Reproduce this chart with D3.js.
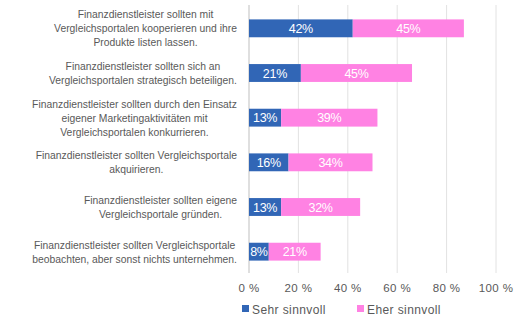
<!DOCTYPE html>
<html lang="de">
<head>
<meta charset="utf-8">
<title>Vergleichsportale</title>
<script src="https://d3js.org/d3.v7.min.js"></script>
<style>
  body { margin: 0; background: #fff; }
  text { font-family: "Liberation Sans", Arial, sans-serif; }
</style>
</head>
<body>
<script>
// data
var categories = [
  ["Finanzdienstleister sollten mit", "Vergleichsportalen kooperieren und ihre", "Produkte listen lassen."],
  ["Finanzdienstleister sollten sich an", "Vergleichsportalen strategisch beteiligen."],
  ["Finanzdienstleister sollten durch den Einsatz", "eigener Marketingaktivitäten mit", "Vergleichsportalen konkurrieren."],
  ["Finanzdienstleister sollten Vergleichsportale", "akquirieren."],
  ["Finanzdienstleister sollten eigene", "Vergleichsportale gründen."],
  ["Finanzdienstleister sollten Vergleichsportale", "beobachten, aber sonst nichts unternehmen."]
];
var sehrSinnvoll = [42, 21, 13, 16, 13, 8];
var eherSinnvoll = [45, 45, 39, 34, 32, 21];
var seriesNames = ["Sehr sinnvoll", "Eher sinnvoll"];
var colors = ["#3166b6", "#ff82e3"];
var ticks = [0, 20, 40, 60, 80, 100];

var w = 516, h = 323;
var svg = d3.select("body").append("svg")
  .attr("width", w)
  .attr("height", h);

var x = d3.scaleLinear().domain([0, 100]).range([249, 496]);
var y = d3.scaleBand()
  .domain(d3.range(categories.length))
  .range([6, 274])
  .paddingInner(0.6)
  .paddingOuter(0.3);

// gridlines
svg.selectAll("line.grid")
  .data(ticks)
  .enter().append("line")
  .attr("class", "grid")
  .attr("x1", d => x(d)).attr("x2", d => x(d))
  .attr("y1", 5).attr("y2", 273)
  .attr("stroke", d => d === 0 ? "#bfbfbf" : "#e2e2e2")
  .attr("stroke-width", 1);

// tick labels
svg.selectAll("text.tick")
  .data(ticks)
  .enter().append("text")
  .attr("class", "tick")
  .attr("x", d => x(d))
  .attr("y", 292)
  .attr("text-anchor", "middle")
  .attr("font-size", 11.5)
  .attr("letter-spacing", 0.4)
  .attr("fill", "#595959")
  .text(d => d + " %");

// stacked bars
var rows = categories.map((c, i) => [
  {s: 0, x0: 0, v: sehrSinnvoll[i], i: i},
  {s: 1, x0: sehrSinnvoll[i], v: eherSinnvoll[i], i: i}
]);
var segs = rows.flat();

svg.selectAll("rect.bar")
  .data(segs)
  .enter().append("rect")
  .attr("class", "bar")
  .attr("x", d => x(d.x0))
  .attr("y", d => y(d.i))
  .attr("width", d => x(d.x0 + d.v) - x(d.x0))
  .attr("height", y.bandwidth())
  .attr("fill", d => colors[d.s]);

svg.selectAll("text.val")
  .data(segs)
  .enter().append("text")
  .attr("class", "val")
  .attr("x", d => x(d.x0 + d.v / 2))
  .attr("y", d => y(d.i) + y.bandwidth() / 2 + 4.5)
  .attr("text-anchor", "middle")
  .attr("font-size", 12.5)
  .attr("letter-spacing", -0.3)
  .attr("fill", "#fff")
  .text(d => d.v + "%");

// category labels (centered block, right aligned), slightly condensed
var lh = 14, sx = 0.9;
categories.forEach(function(lines, i) {
  var g = svg.append("g");
  var t = g.append("text")
    .attr("font-size", 11.5)
    .attr("fill", "#595959")
    .attr("text-anchor", "middle");
  lines.forEach(function(l, k) {
    t.append("tspan").attr("x", 0).attr("dy", k === 0 ? 0 : lh).text(l);
  });
  var bw = t.node().getBBox().width * sx;
  var cy = y(i) + y.bandwidth() / 2;
  var top = cy - (lines.length - 1) * lh / 2 + 4;
  g.attr("transform", "translate(" + (237 - bw / 2) + "," + top + ") scale(" + sx + ",1)");
});

// legend
var legX = [242, 357];
seriesNames.forEach(function(n, i) {
  svg.append("rect")
    .attr("x", legX[i]).attr("y", 305)
    .attr("width", 7).attr("height", 7)
    .attr("fill", colors[i]);
  svg.append("text")
    .attr("x", legX[i] + 10).attr("y", 314)
    .attr("font-size", 12)
    .attr("letter-spacing", 0.4)
    .attr("fill", "#595959")
    .text(n);
});
</script>
</body>
</html>
